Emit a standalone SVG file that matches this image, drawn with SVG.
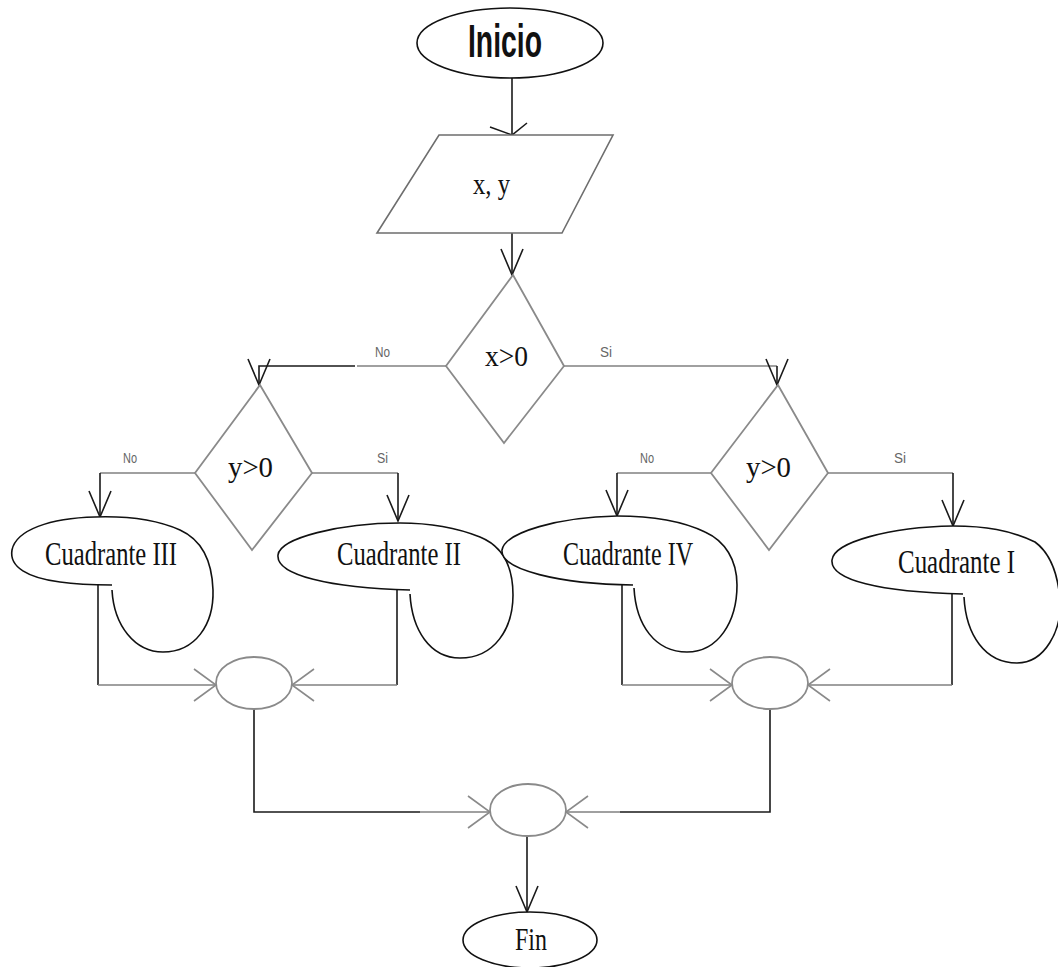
<svg xmlns="http://www.w3.org/2000/svg" width="1058" height="967" viewBox="0 0 1058 967">
  <style>
    .bg { fill: #ffffff; }
    .term { fill: #ffffff; stroke: #111111; stroke-width: 1.6; }
    .io { fill: #ffffff; stroke: #6e6e6e; stroke-width: 1.6; }
    .dec { fill: #ffffff; stroke: #8a8a8a; stroke-width: 1.8; }
    .merge { fill: #ffffff; stroke: #8a8a8a; stroke-width: 1.8; }
    .out { fill: #ffffff; stroke: #111111; stroke-width: 1.6; }
    .wire { fill: none; stroke: #1a1a1a; stroke-width: 1.6; }
    .wire-g { fill: none; stroke: #808080; stroke-width: 1.6; }
    .serif { font-family: "Liberation Serif", "DejaVu Serif", serif; fill: #111111; }
    .head { font-family: "Liberation Sans", "DejaVu Sans", sans-serif; font-weight: bold; fill: #111111; }
    .lab { font-family: "Liberation Sans", "DejaVu Sans", sans-serif; font-size: 14px; fill: #666666; }
  </style>
  <defs>
    <marker id="arr" markerUnits="userSpaceOnUse" markerWidth="40" markerHeight="40" viewBox="-30 -20 40 40" refX="0" refY="0" orient="auto">
      <path d="M-26,-11 L0,0 L-26,11" fill="none" stroke="#1a1a1a" stroke-width="1.6"/>
    </marker>
    <marker id="arr-wide" markerUnits="userSpaceOnUse" markerWidth="40" markerHeight="50" viewBox="-30 -25 40 50" refX="0" refY="0" orient="auto">
      <path d="M-12,-15 L0,0 L-8,22" fill="none" stroke="#1a1a1a" stroke-width="1.6"/>
    </marker>
    <marker id="arr-g" markerUnits="userSpaceOnUse" markerWidth="40" markerHeight="40" viewBox="-30 -20 40 40" refX="0" refY="0" orient="auto">
      <path d="M-22,-16 L0,0 L-22,16" fill="none" stroke="#8a8a8a" stroke-width="1.6"/>
    </marker>
  </defs>

  <rect class="bg" x="0" y="0" width="1058" height="967"/>

  <!-- connectors -->
  <g id="connectors">
    <path class="wire" d="M512,78 V135" marker-end="url(#arr-wide)"/>
    <path class="wire" d="M512,233 V275" marker-end="url(#arr)"/>

    <path class="wire-g" d="M446,366 H357"/>
    <path class="wire" d="M355,366 H259 V385" marker-end="url(#arr)"/>
    <path class="wire-g" d="M564,366 H777"/>
    <path class="wire" d="M777,366 V385" marker-end="url(#arr)"/>

    <path class="wire-g" d="M195,473 H100"/>
    <path class="wire" d="M100,473 V517" marker-end="url(#arr)"/>
    <path class="wire-g" d="M312,473 H398"/>
    <path class="wire" d="M398,473 V521" marker-end="url(#arr)"/>
    <path class="wire-g" d="M711,473 H617"/>
    <path class="wire" d="M617,473 V516" marker-end="url(#arr)"/>
    <path class="wire-g" d="M828,473 H953"/>
    <path class="wire" d="M953,473 V526" marker-end="url(#arr)"/>

    <path class="wire" d="M98,585 V685"/>
    <path class="wire-g" d="M98,685 H216" marker-end="url(#arr-g)"/>
    <path class="wire" d="M397,590 V685"/>
    <path class="wire-g" d="M397,685 H292" marker-end="url(#arr-g)"/>
    <path class="wire" d="M622,585 V685"/>
    <path class="wire-g" d="M622,685 H732" marker-end="url(#arr-g)"/>
    <path class="wire" d="M952,594 V685"/>
    <path class="wire-g" d="M952,685 H808" marker-end="url(#arr-g)"/>

    <path class="wire" d="M254,709 V812 H420"/>
    <path class="wire-g" d="M420,812 H490" marker-end="url(#arr-g)"/>
    <path class="wire" d="M770,709 V812 H620"/>
    <path class="wire-g" d="M620,812 H566" marker-end="url(#arr-g)"/>
    <path class="wire" d="M527,836 V912" marker-end="url(#arr)"/>
  </g>

  <!-- start -->
  <g id="inicio">
    <ellipse class="term" cx="510" cy="43" rx="93" ry="35"/>
    <text class="head" x="468" y="57" font-size="47" textLength="74" lengthAdjust="spacingAndGlyphs">Inicio</text>
  </g>

  <!-- input -->
  <g id="entrada">
    <polygon class="io" points="439,135 613,135 562,233 377,233"/>
    <text class="serif" x="473" y="194" font-size="29" textLength="37" lengthAdjust="spacingAndGlyphs">x, y</text>
  </g>

  <!-- decisions -->
  <g id="decision-x">
    <polygon class="dec" points="513,275 564,366 504,443 446,366"/>
    <text class="serif" x="485" y="366" font-size="29" textLength="43" lengthAdjust="spacingAndGlyphs">x&gt;0</text>
  </g>
  <g id="decision-y-izq">
    <polygon class="dec" points="260,385 312,473 252,550 195,473"/>
    <text class="serif" x="228" y="477" font-size="29" textLength="45" lengthAdjust="spacingAndGlyphs">y&gt;0</text>
  </g>
  <g id="decision-y-der">
    <polygon class="dec" points="778,385 828,473 769,550 711,473"/>
    <text class="serif" x="746" y="477" font-size="29" textLength="45" lengthAdjust="spacingAndGlyphs">y&gt;0</text>
  </g>

  <!-- branch labels -->
  <g id="etiquetas">
    <text class="lab" x="375" y="357" textLength="15" lengthAdjust="spacingAndGlyphs">No</text>
    <text class="lab" x="600" y="357" textLength="12" lengthAdjust="spacingAndGlyphs">Si</text>
    <text class="lab" x="123" y="463" textLength="14" lengthAdjust="spacingAndGlyphs">No</text>
    <text class="lab" x="377" y="463" textLength="11" lengthAdjust="spacingAndGlyphs">Si</text>
    <text class="lab" x="640" y="463" textLength="14" lengthAdjust="spacingAndGlyphs">No</text>
    <text class="lab" x="894" y="463" textLength="12" lengthAdjust="spacingAndGlyphs">Si</text>
  </g>

  <!-- outputs -->
  <g id="cuadrante-3">
    <path class="out" d="M112,590 C114,626 135,652 163,652 C195,652 214,625 213,590 C212,560 202,540 180,530 C155,519 125,516 95,517 C50,518 16,530 12,550 C9,567 28,578 60,582 C80,585 100,585 112,585"/>
    <text class="serif" x="45" y="565" font-size="33" textLength="132" lengthAdjust="spacingAndGlyphs">Cuadrante III</text>
  </g>
  <g id="cuadrante-2">
    <path class="out" d="M410,594 C412,630 430,658 460,658 C495,658 513,628 513,595 C513,566 502,546 480,537 C455,527 430,523 400,523 C340,523 280,538 278,555 C276,575 330,588 410,590"/>
    <text class="serif" x="337" y="565" font-size="33" textLength="124" lengthAdjust="spacingAndGlyphs">Cuadrante II</text>
  </g>
  <g id="cuadrante-4">
    <path class="out" d="M634,588 C636,625 655,652 687,652 C718,652 737,622 737,585 C737,560 725,541 705,532 C680,520 650,516 617,516 C560,517 505,532 502,550 C500,570 560,584 633,585"/>
    <text class="serif" x="563" y="565" font-size="33" textLength="130" lengthAdjust="spacingAndGlyphs">Cuadrante IV</text>
  </g>
  <g id="cuadrante-1">
    <path class="out" d="M964,597 C966,635 985,663 1017,663 C1045,663 1062,630 1060,600 C1058,575 1050,553 1035,542 C1010,530 985,526 953,526 C890,527 834,542 832,560 C830,580 880,592 963,594"/>
    <text class="serif" x="898" y="573" font-size="33" textLength="117" lengthAdjust="spacingAndGlyphs">Cuadrante I</text>
  </g>

  <!-- junctions -->
  <g id="union-izq">
    <ellipse class="merge" cx="254" cy="683" rx="38" ry="26"/>
  </g>
  <g id="union-der">
    <ellipse class="merge" cx="770" cy="683" rx="38" ry="26"/>
  </g>
  <g id="union-final">
    <ellipse class="merge" cx="528" cy="810" rx="38" ry="26"/>
  </g>

  <!-- end -->
  <g id="fin">
    <ellipse class="term" cx="530" cy="940" rx="67" ry="28"/>
    <text class="serif" x="515" y="950" font-size="31" textLength="32" lengthAdjust="spacingAndGlyphs">Fin</text>
  </g>
</svg>
